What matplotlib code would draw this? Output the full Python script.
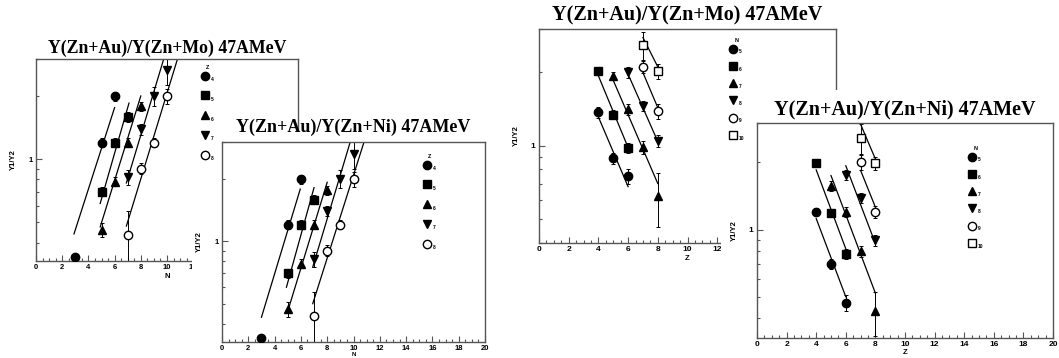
import matplotlib
matplotlib.use("Agg")
import matplotlib.pyplot as plt
from matplotlib.patches import Rectangle
from matplotlib.ticker import MultipleLocator, NullFormatter

# -------------------------------
# DATA
# -------------------------------

TITLE_MO = "Y(Zn+Au)/Y(Zn+Mo) 47AMeV"
TITLE_NI = "Y(Zn+Au)/Y(Zn+Ni) 47AMeV"

# series labels
z_labels = ["4", "5", "6", "7", "8"]          # panels plotted vs N
n_labels = ["5", "6", "7", "8", "9", "10"]    # panels plotted vs Z

# Zn+Au / Zn+Mo vs N
mo_n_x = [[3, 5, 6], [5, 6, 7], [5, 6, 7, 8], [7, 8, 9, 10], [7, 8, 9, 10]]
mo_n_y = [[0.34, 1.20, 2.00], [0.70, 1.20, 1.59], [0.46, 0.78, 1.20, 1.79],
          [0.82, 1.39, 2.00, 2.65], [0.435, 0.90, 1.20, 2.00]]
mo_n_err = [[0.04, 0.05, 0.05], [0.05, 0.05, 0.05], [0.08, 0.05, 0.05, 0.05],
            [0.08, 0.06, 0.10, 0.15], [0.30, 0.06, 0.05, 0.08]]
mo_n_fit_x = [[2.9, 6.0], [4.9, 7.1], [4.9, 8.0], [6.9, 9.75], [6.9, 10.8]]
mo_n_fit_y = [[0.44, 1.76], [0.615, 1.85], [0.475, 2.0], [0.77, 3.0], [0.48, 3.0]]

# Zn+Au / Zn+Ni vs N
ni_n_x = [[3, 5, 6], [5, 6, 7], [5, 6, 7, 8], [7, 8, 9, 10], [7, 8, 9, 10]]
ni_n_y = [[0.34, 1.20, 1.98], [0.70, 1.20, 1.58], [0.47, 0.78, 1.20, 1.76],
          [0.82, 1.40, 2.00, 2.63], [0.436, 0.90, 1.20, 1.99]]
ni_n_err = [[0.04, 0.05, 0.05], [0.05, 0.05, 0.05], [0.08, 0.05, 0.05, 0.05],
            [0.08, 0.06, 0.10, 0.15], [0.30, 0.06, 0.05, 0.08]]
ni_n_fit_x = [[3.0, 5.95], [4.9, 7.0], [5.0, 8.0], [6.9, 9.75], [6.9, 10.8]]
ni_n_fit_y = [[0.43, 1.78], [0.60, 1.81], [0.46, 1.92], [0.75, 3.0], [0.50, 3.0]]

# Zn+Au / Zn+Mo vs Z
mo_z_x = [[4, 5, 6], [4, 5, 6], [5, 6, 7, 8], [6, 7, 8], [7, 8], [7, 8]]
mo_z_y = [[1.37, 0.89, 0.75], [2.02, 1.34, 0.98], [1.93, 1.41, 0.985, 0.62],
          [2.00, 1.455, 1.047], [2.10, 1.38], [2.58, 2.02]]
mo_z_err = [[0.05, 0.05, 0.07], [0.04, 0.04, 0.05], [0.04, 0.05, 0.06, 0.25],
            [0.05, 0.05, 0.06], [0.06, 0.07], [0.13, 0.07]]
mo_z_fit_x = [[4.0, 6.0], [4.0, 6.1], [5.0, 8.0], [6.0, 8.0], [7.0, 8.0], [7.0, 8.0]]
mo_z_fit_y = [[1.31, 0.68], [1.93, 0.95], [1.85, 0.70], [1.96, 1.04], [1.99, 1.43], [2.77, 2.10]]

# Zn+Au / Zn+Ni vs Z
ni_z_x = [[4, 5, 6], [4, 5, 6], [5, 6, 7, 8], [6, 7, 8], [7, 8], [7, 8]]
ni_z_y = [[1.20, 0.70, 0.47], [1.98, 1.19, 0.78], [1.57, 1.20, 0.80, 0.43],
          [1.76, 1.39, 0.896], [2.00, 1.20], [2.57, 1.98]]
ni_z_err = [[0.04, 0.05, 0.08], [0.04, 0.04, 0.05], [0.05, 0.05, 0.06, 0.22],
            [0.05, 0.05, 0.06], [0.08, 0.06], [0.15, 0.07]]
ni_z_fit_x = [[4.0, 6.0], [4.0, 6.0], [5.0, 8.0], [6.0, 8.0], [7.0, 8.0], [7.0, 8.0]]
ni_z_fit_y = [[1.12, 0.50], [1.85, 0.82], [1.745, 0.519], [1.93, 0.866], [1.84, 1.26], [2.96, 2.07]]

# -------------------------------
# STYLE / LAYOUT (pixels)
# -------------------------------

W, H = 1059, 358
MARKERS = [("o", "k"), ("s", "k"), ("^", "k"), ("v", "k"), ("o", "w"), ("s", "w")]
FRAME = "#555555"

plt.rcParams["font.family"] = ["Liberation Sans", "DejaVu Sans"]
plt.rcParams["font.weight"] = "bold"

fig = plt.figure(figsize=(W / 100, H / 100), dpi=100)


def px_axes(left, top, right, bottom, z):
    return fig.add_axes([left / W, 1 - bottom / H, (right - left) / W, (bottom - top) / H], zorder=z)


def cover(x0, y0, x1, y1, z):
    # white paper of the panel pasted on top
    fig.add_artist(Rectangle((x0 / W, 1 - y1 / H), (x1 - x0) / W, (y1 - y0) / H,
                             transform=fig.transFigure, facecolor="white",
                             edgecolor="none", zorder=z))


def panel(box, z, title, title_size, title_pad, xs, ys, errs, fx, fy, labels,
          head, xlabel, ylim, leg_px, pitch_px, tick_size, xlab_off=12, xlab_size=5.5):
    left, top, right, bottom = box
    ax = px_axes(left, top, right, bottom, z)
    ax.set_facecolor("white")
    wpx, hpx = right - left, bottom - top

    handles = []
    for i in range(len(xs)):
        m, fc = MARKERS[i]
        ax.plot(fx[i], fy[i], color="k", lw=0.9, zorder=2)
        yerr = [y * e for y, e in zip(ys[i], errs[i])]
        ax.errorbar(xs[i], ys[i], yerr=yerr, fmt="none", ecolor="k",
                    elinewidth=0.7, capsize=1.5, capthick=0.7, zorder=2)
        h, = ax.plot(xs[i], ys[i], linestyle="none", marker=m, ms=6,
                     mfc=fc, mec="k", mew=1.0, zorder=3)
        handles.append(h)

    ax.set_yscale("log")
    ax.set_xlim(0, 20)
    ax.set_ylim(*ylim)
    ax.set_yticks([1])
    ax.set_yticklabels(["1"])
    ax.set_yticks([0.4, 0.5, 0.6, 0.7, 0.8, 0.9, 2, 3], minor=True)
    ax.yaxis.set_minor_formatter(NullFormatter())
    ax.set_xticks(range(0, 21, 2))
    ax.xaxis.set_minor_locator(MultipleLocator(0.5))
    ax.tick_params(which="both", direction="in", top=False, right=False,
                   color=FRAME, width=0.8, labelsize=tick_size, pad=2.5)
    ax.tick_params(which="major", length=4)
    ax.tick_params(which="minor", length=2)
    for sp in ax.spines.values():
        sp.set_color(FRAME)
        sp.set_linewidth(1.0)

    ax.set_xlabel(xlabel, fontsize=xlab_size, fontweight="bold")
    ax.xaxis.set_label_coords(0.5, -xlab_off / hpx)
    ax.set_ylabel("Y1/Y2", fontsize=5.5, fontweight="bold")
    ax.yaxis.set_label_coords(-19 / wpx, 0.5)

    ax.set_title(title, fontsize=title_size, fontweight="bold",
                 family="Liberation Serif", pad=title_pad)

    # legend block
    f = 3.5
    hh = pitch_px / f - 0.12
    mx, my = leg_px
    lx = (mx - 1.6 * f / 2 - left) / wpx
    ly = (bottom - (my - 3 - pitch_px / 2)) / hpx
    leg = ax.legend(handles, labels, title=head, loc="upper left",
                    bbox_to_anchor=(lx, ly), frameon=False, fontsize=f,
                    title_fontsize=4, numpoints=1, handlelength=1.6,
                    handleheight=hh, labelspacing=0.12, handletextpad=0.4,
                    borderpad=0, borderaxespad=0)
    leg.get_title().set_fontweight("bold")
    return ax


# panel 1 : Mo vs N
panel((36, 59, 298, 261), 1, TITLE_MO, 12.8, 4.5, mo_n_x, mo_n_y, mo_n_err,
      mo_n_fit_x, mo_n_fit_y, z_labels, "Z", "N", (0.327, 2.99), (204, 78), 20.3, 5.5)

# white paste behind panel 2
cover(192, 170, 505, 358, 2)
cover(216, 132, 505, 170, 2)

# panel 2 : Ni vs N
panel((222, 142, 485, 342), 3, TITLE_NI, 13.0, 7.2, ni_n_x, ni_n_y, ni_n_err,
      ni_n_fit_x, ni_n_fit_y, z_labels, "Z", "N", (0.327, 2.99), (426, 167), 20.3, 5.5,
      xlab_off=9.5, xlab_size=4.5)

# panel 3 : Mo vs Z
panel((539, 29, 836, 243), 1, TITLE_MO, 14.5, 6.2, mo_z_x, mo_z_y, mo_z_err,
      mo_z_fit_x, mo_z_fit_y, n_labels, "N", "Z", (0.47, 2.99), (732, 50), 17.6, 6)

# white paste behind panel 4
cover(721, 160, 1059, 358, 2)
cover(750, 90, 1059, 160, 2)

# panel 4 : Ni vs Z
panel((757, 123, 1053, 338), 3, TITLE_NI, 14.5, 6.0, ni_z_x, ni_z_y, ni_z_err,
      ni_z_fit_x, ni_z_fit_y, n_labels, "N", "Z", (0.327, 2.97), (971, 158), 17.6, 6,
      xlab_off=11)

fig.savefig("out.png", dpi=100, facecolor="white")
